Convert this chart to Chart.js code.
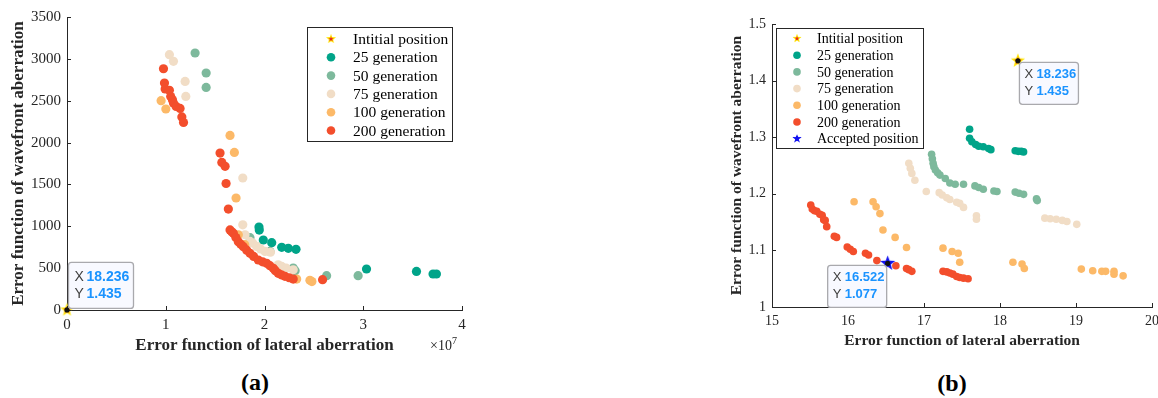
<!DOCTYPE html>
<html>
<head>
<meta charset="utf-8">
<script src="https://cdn.jsdelivr.net/npm/chart.js@4.4.1/dist/chart.umd.min.js"></script>
<style>
  html, body { margin: 0; padding: 0; background: #fff; }
  body { width: 1158px; height: 398px; overflow: hidden; position: relative; font-family: "Liberation Serif", serif; color: #262626; }
  canvas { position: absolute; top: 0; }
  #chartA { left: 0; }
  #chartB { left: 690px; }
  .caption { position: absolute; font-size: 24px; font-weight: bold; color: #000; line-height: 1; transform: translate(-50%, -50%); }
  #expo { position: absolute; left: 430px; top: 339px; font-size: 14px; line-height: 14px; }
  #expo sup { font-size: 10px; vertical-align: 6px; line-height: 0; }
</style>
</head>
<body>
<canvas id="chartA" width="480" height="360"></canvas>
<canvas id="chartB" width="480" height="360"></canvas>
<div id="expo">×10<sup>7</sup></div>
<div class="caption" style="left:255px; top:382px;">(a)</div>
<div class="caption" style="left:952px; top:383px;">(b)</div>

<script>
// ===== Données =====

// Positions de référence (X = aberration latérale, Y = aberration de front d'onde)
const initialPos = [18.236, 1.435];
const acceptedPos = [16.522, 1.077];

// (a) axe X en unités de 10^7
const latA25  = [1.944, 1.947, 1.988, 2.073, 2.174, 2.241, 2.319, 3.033, 3.539, 3.707, 3.741];
const wavA25  = [991, 955, 836, 804, 749, 737, 725, 490, 461, 430, 430];
const latA50  = [1.297, 1.409, 1.409, 1.853, 2.056, 2.291, 2.31, 2.629, 2.948];
const wavA50  = [3070, 2831, 2659, 864, 700, 502, 470, 410, 410];
const latA75  = [1.037, 1.078, 1.196, 1.203, 1.780, 1.780, 1.803, 1.853, 1.88, 1.921, 1.96, 2.005, 2.06, 2.139, 2.174, 2.22, 2.291];
const wavA75  = [3050, 2970, 2730, 2551, 1577, 1018, 899, 819, 800, 759, 730, 700, 690, 540, 520, 500, 480];
const latA100 = [0.953, 1.001, 1.651, 1.695, 1.712, 1.735, 1.80, 2.326, 2.460, 2.48];
const wavA100 = [2500, 2401, 2085, 1882, 1338, 899, 780, 370, 354, 340];
const latA200 = [0.977, 0.987, 0.994, 1.037, 1.05, 1.068, 1.078, 1.105, 1.145, 1.163, 1.180, 1.550, 1.568, 1.601, 1.611, 1.634, 1.651, 1.668, 1.685, 1.71, 1.735, 1.76, 1.786, 1.82, 1.853, 1.89, 1.937, 1.98, 2.022, 2.055, 2.089, 2.11, 2.139, 2.17, 2.207, 2.25, 2.291, 2.588];
const wavA200 = [2882, 2711, 2640, 2624, 2550, 2510, 2472, 2432, 2408, 2306, 2240, 1875, 1763, 1716, 1511, 1206, 956, 935, 916, 865, 816, 785, 756, 715, 677, 640, 597, 575, 557, 530, 498, 470, 438, 420, 402, 385, 370, 362];

// (b)
const latB25  = [17.60, 17.60, 17.63, 17.68, 17.72, 17.78, 17.85, 17.88, 18.20, 18.24, 18.28, 18.31];
const wavB25  = [1.314, 1.298, 1.292, 1.287, 1.284, 1.283, 1.280, 1.278, 1.276, 1.275, 1.275, 1.274];
const latB50  = [17.10, 17.11, 17.12, 17.13, 17.15, 17.18, 17.21, 17.28, 17.34, 17.41, 17.52, 17.67, 17.72, 17.78, 17.92, 17.96, 18.20, 18.25, 18.31, 18.48, 18.49];
const wavB50  = [1.270, 1.262, 1.254, 1.248, 1.242, 1.237, 1.233, 1.227, 1.219, 1.217, 1.217, 1.214, 1.211, 1.208, 1.205, 1.204, 1.203, 1.201, 1.199, 1.191, 1.188];
const latB75  = [16.80, 16.82, 16.84, 16.88, 17.03, 17.20, 17.24, 17.30, 17.34, 17.43, 17.47, 17.52, 17.69, 17.69, 18.59, 18.66, 18.74, 18.82, 18.88, 19.01];
const wavB75  = [1.254, 1.245, 1.236, 1.224, 1.204, 1.202, 1.198, 1.193, 1.190, 1.185, 1.183, 1.176, 1.161, 1.155, 1.157, 1.156, 1.155, 1.153, 1.151, 1.146];
const latB100 = [16.08, 16.33, 16.37, 16.42, 16.46, 16.62, 16.77, 17.25, 17.37, 17.45, 17.47, 18.17, 18.29, 18.32, 19.07, 19.22, 19.34, 19.39, 19.50, 19.50, 19.62];
const wavB100 = [1.186, 1.186, 1.177, 1.165, 1.136, 1.123, 1.105, 1.104, 1.098, 1.095, 1.079, 1.079, 1.076, 1.068, 1.067, 1.064, 1.063, 1.063, 1.063, 1.058, 1.055];
const latB200 = [15.51, 15.53, 15.56, 15.59, 15.63, 15.66, 15.68, 15.70, 15.72, 15.82, 15.85, 15.99, 16.03, 16.07, 16.23, 16.27, 16.38, 16.63, 16.77, 16.80, 16.84, 17.25, 17.30, 17.34, 17.38, 17.43, 17.47, 17.52, 17.58];
const wavB200 = [1.180, 1.173, 1.170, 1.169, 1.164, 1.162, 1.154, 1.153, 1.142, 1.125, 1.123, 1.106, 1.102, 1.098, 1.095, 1.092, 1.082, 1.073, 1.068, 1.066, 1.063, 1.063, 1.062, 1.060, 1.058, 1.054, 1.052, 1.051, 1.050];

const seriesLabels = ['25 generation', '50 generation', '75 generation', '100 generation', '200 generation'];
const seriesColors = ['#00A489', '#7DB99C', '#F1DDC6', '#FCB968', '#F34E2C'];

const X_EXP = 1e7; // axe (a) en ×10^7

// ===== Utilitaires =====
const zip = (xs, ys, k = 1) => xs.map((x, i) => ({ x: x / k, y: ys[i] }));

// étoile pleine (pointStyle image)
function makeStar(size, fill, inner) {
  const c = document.createElement('canvas');
  c.width = c.height = size;
  const g = c.getContext('2d');
  const star = (r) => {
    g.beginPath();
    for (let k = 0; k < 10; k++) {
      const rad = k % 2 ? r * 0.42 : r;
      const a = -Math.PI / 2 + k * Math.PI / 5;
      g.lineTo(size / 2 + rad * Math.cos(a), size / 2 + rad * Math.sin(a));
    }
    g.closePath();
  };
  star(size / 2 - 0.5);
  g.fillStyle = fill;
  g.fill();
  if (inner) {
    star(size / 4);
    g.fillStyle = inner;
    g.fill();
  }
  return c;
}

Chart.defaults.font.family = "'Liberation Serif', serif";
Chart.defaults.color = '#262626';

// ticks vers l'intérieur (style MATLAB)
const inwardTicks = {
  id: 'inwardTicks',
  afterDraw(chart) {
    const { ctx, chartArea, scales } = chart;
    const len = 4;
    ctx.save();
    ctx.strokeStyle = '#262626';
    ctx.lineWidth = 1;
    ctx.beginPath();
    scales.x.ticks.forEach((t, i) => {
      const x = Math.round(scales.x.getPixelForTick(i)) + 0.5;
      ctx.moveTo(x, chartArea.bottom);
      ctx.lineTo(x, chartArea.bottom - len);
    });
    scales.y.ticks.forEach((t, i) => {
      const y = Math.round(scales.y.getPixelForTick(i)) + 0.5;
      ctx.moveTo(chartArea.left, y);
      ctx.lineTo(chartArea.left + len, y);
    });
    ctx.stroke();
    ctx.restore();
  }
};

// légende encadrée dans la zone du graphique
const boxLegend = {
  id: 'boxLegend',
  afterDraw(chart, args, o) {
    const ctx = chart.ctx;
    ctx.save();
    ctx.fillStyle = '#fff';
    ctx.fillRect(o.left, o.top, o.width, o.height);
    ctx.strokeStyle = '#262626';
    ctx.lineWidth = 1;
    ctx.strokeRect(o.left + 0.5, o.top + 0.5, o.width, o.height);
    ctx.font = o.font;
    ctx.textBaseline = 'middle';
    chart.data.datasets.forEach((d, i) => {
      const y = o.top + o.firstRow + i * o.rowH;
      if (d.pointStyle instanceof HTMLCanvasElement) {
        ctx.drawImage(d.pointStyle, o.markerX - o.starSize / 2, y - o.starSize / 2, o.starSize, o.starSize);
      } else {
        ctx.fillStyle = d.backgroundColor;
        ctx.beginPath();
        ctx.arc(o.markerX, y, o.dotR, 0, 2 * Math.PI);
        ctx.fill();
      }
      ctx.fillStyle = '#000';
      ctx.fillText(d.label, o.textX, y + 1);
    });
    ctx.restore();
  }
};

// bulles "datatip" : X / Y
const datatips = {
  id: 'datatips',
  afterDraw(chart, args, o) {
    const ctx = chart.ctx;
    (o.tips || []).forEach(tip => {
      const pt = chart.getDatasetMeta(tip.dataset).data[0];
      const px = pt.x, py = pt.y;
      ctx.save();
      ctx.fillStyle = '#111';
      ctx.beginPath();
      ctx.arc(px, py, 2.6, 0, 2 * Math.PI);
      ctx.fill();
      const bx = tip.dx >= 0 ? px + tip.dx : px + tip.dx - tip.w;
      const by = tip.dy >= 0 ? py + tip.dy : py + tip.dy - tip.h;
      ctx.beginPath();
      ctx.roundRect(bx + 0.5, by + 0.5, tip.w, tip.h, 3);
      ctx.fillStyle = '#F8F9FF';
      ctx.fill();
      ctx.strokeStyle = '#A9A9AD';
      ctx.lineWidth = 1.3;
      ctx.stroke();
      ctx.textBaseline = 'middle';
      ctx.font = tip.size + "px 'Liberation Sans', Arial, sans-serif";
      ctx.fillStyle = '#404040';
      ctx.fillText('X', bx + tip.padX, by + tip.row1);
      ctx.fillText('Y', bx + tip.padX, by + tip.row2);
      ctx.font = 'bold ' + tip.size + "px 'Liberation Sans', Arial, sans-serif";
      ctx.fillStyle = '#1A93FF';
      ctx.fillText(tip.xs, bx + tip.valX, by + tip.row1);
      ctx.fillText(tip.ys, bx + tip.valX, by + tip.row2);
      ctx.restore();
    });
  }
};

function genDatasets(lats, wavs, k, radius) {
  return lats.map((xs, i) => ({
    label: seriesLabels[i],
    data: zip(xs, wavs[i], k),
    backgroundColor: seriesColors[i],
    pointRadius: radius,
    pointBorderWidth: 0,
    order: 5 - i
  }));
}

function axisConf(min, max, step, fontSize, titleText, titleSize, fitSize, horizontal, cb) {
  return {
    type: 'linear',
    min: min, max: max,
    grid: { display: false, drawTicks: false },
    border: { display: true, color: '#262626', width: 1 },
    ticks: { stepSize: step, padding: 6, font: { size: fontSize }, color: '#262626', maxRotation: 0, callback: cb },
    title: { display: true, text: titleText, color: '#262626', padding: { top: 4, bottom: 4 }, font: { size: titleSize, weight: 'bold', lineHeight: 1.2 } },
    afterFit: s => { if (horizontal) s.height = fitSize; else s.width = fitSize; }
  };
}

// ===== (a) =====
const starInitA = makeStar(15, '#FFE600', '#E8261C');
const starInitB = makeStar(16, '#FFE600', '#E8261C');
const starAcc = makeStar(17, '#1010F0', null);

new Chart(document.getElementById('chartA'), {
  type: 'scatter',
  data: {
    datasets: [
      { label: 'Intitial position', data: [{ x: initialPos[0] / X_EXP, y: initialPos[1] }], pointStyle: starInitA, pointRadius: 7, order: -1, clip: false },
      ...genDatasets([latA25, latA50, latA75, latA100, latA200], [wavA25, wavA50, wavA75, wavA100, wavA200], 1, 4.6)
    ]
  },
  options: {
    responsive: false,
    animation: false,
    devicePixelRatio: 1,
    layout: { padding: { left: 4, top: 17, right: 18, bottom: 0 } },
    scales: {
      x: axisConf(0, 4, 1, 15, 'Error function of lateral aberration', 17, 50, true),
      y: axisConf(0, 3500, 500, 15, 'Error function of wavefront aberration', 17, 63, false)
    },
    plugins: {
      legend: { display: false },
      tooltip: { enabled: false },
      boxLegend: { left: 307, top: 27, width: 145, height: 114, firstRow: 12, rowH: 18.3, markerX: 331, textX: 353, dotR: 4.3, starSize: 11, font: "15.5px 'Liberation Serif', serif" },
      datatips: { tips: [
        { dataset: 0, dx: 1, dy: -2, w: 65, h: 46, padX: 6.5, valX: 18.5, row1: 15, row2: 32.5, size: 14, xs: initialPos[0].toFixed(3), ys: initialPos[1].toFixed(3) }
      ] }
    }
  },
  plugins: [inwardTicks, boxLegend, datatips]
});

// ===== (b) =====
new Chart(document.getElementById('chartB'), {
  type: 'scatter',
  data: {
    datasets: [
      { label: 'Intitial position', data: [{ x: initialPos[0], y: initialPos[1] }], pointStyle: starInitB, pointRadius: 8, order: -1, clip: false },
      ...genDatasets([latB25, latB50, latB75, latB100, latB200], [wavB25, wavB50, wavB75, wavB100, wavB200], 1, 3.8),
      { label: 'Accepted position', data: [{ x: acceptedPos[0], y: acceptedPos[1] }], pointStyle: starAcc, pointRadius: 8, order: -1, clip: false }
    ]
  },
  options: {
    responsive: false,
    animation: false,
    devicePixelRatio: 1,
    layout: { padding: { left: 34, top: 24, right: 18, bottom: 6 } },
    scales: {
      x: axisConf(15, 20, 1, 14, 'Error function of lateral aberration', 15.5, 47, true),
      y: axisConf(1, 1.5, 0.1, 14, 'Error function of wavefront aberration', 15.5, 48, false, v => +v.toFixed(1))
    },
    plugins: {
      legend: { display: false },
      tooltip: { enabled: false },
      boxLegend: { left: 86, top: 28, width: 147, height: 120, firstRow: 10.5, rowH: 16.7, markerX: 107, textX: 127, dotR: 3.8, starSize: 10, font: "14px 'Liberation Serif', serif" },
      datatips: { tips: [
        { dataset: 0, dx: 1, dy: 1, w: 59, h: 42, padX: 5.5, valX: 17.5, row1: 13, row2: 29.5, size: 13, xs: initialPos[0].toFixed(3), ys: initialPos[1].toFixed(3) },
        { dataset: 6, dx: -1.5, dy: 1.5, w: 59, h: 42, padX: 5.5, valX: 17.5, row1: 13, row2: 29.5, size: 13, xs: acceptedPos[0].toFixed(3), ys: acceptedPos[1].toFixed(3) }
      ] }
    }
  },
  plugins: [inwardTicks, boxLegend, datatips]
});
</script>
</body>
</html>
